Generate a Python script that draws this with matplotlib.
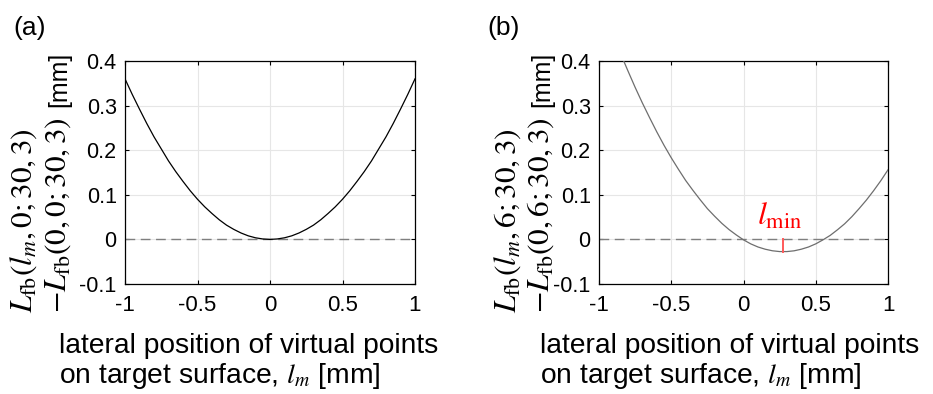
import matplotlib
matplotlib.use("Agg")
import matplotlib.pyplot as plt

plt.rcParams['font.family'] = ['Liberation Sans', 'DejaVu Sans']
plt.rcParams['mathtext.fontset'] = 'stix'
plt.rcParams['axes.unicode_minus'] = False

# Panel (a) curve values
xa = [-1.0, -0.95, -0.9, -0.85, -0.8, -0.75, -0.7, -0.65, -0.6, -0.55, -0.5,
      -0.45, -0.4, -0.35, -0.3, -0.25, -0.2, -0.15, -0.1, -0.05, 0.0,
      0.05, 0.1, 0.15, 0.2, 0.25, 0.3, 0.35, 0.4, 0.45, 0.5,
      0.55, 0.6, 0.65, 0.7, 0.75, 0.8, 0.85, 0.9, 0.95, 1.0]
ya = [0.360, 0.325, 0.292, 0.260, 0.230, 0.203, 0.176, 0.152, 0.130, 0.109, 0.090,
      0.073, 0.058, 0.044, 0.032, 0.0225, 0.0144, 0.008, 0.0036, 0.001, 0.0,
      0.001, 0.0036, 0.008, 0.0144, 0.0225, 0.032, 0.044, 0.058, 0.073, 0.090,
      0.109, 0.130, 0.152, 0.176, 0.203, 0.230, 0.260, 0.292, 0.325, 0.360]

# Panel (b) curve values
xb = [-0.85, -0.8, -0.75, -0.7, -0.65, -0.6, -0.55, -0.5, -0.45, -0.4,
      -0.35, -0.3, -0.25, -0.2, -0.15, -0.1, -0.05, 0.0, 0.05, 0.1,
      0.15, 0.2, 0.25, 0.3, 0.35, 0.4, 0.45, 0.5, 0.55, 0.6,
      0.65, 0.7, 0.75, 0.8, 0.85, 0.9, 0.95, 1.0]
yb = [0.416, 0.378, 0.341, 0.306, 0.273, 0.241, 0.211, 0.183, 0.157, 0.132,
      0.110, 0.089, 0.069, 0.052, 0.036, 0.022, 0.010, -0.001, -0.010, -0.017,
      -0.022, -0.0255, -0.0273, -0.0273, -0.0256, -0.022, -0.017, -0.010, -0.001, 0.009,
      0.0215, 0.035, 0.051, 0.069, 0.088, 0.109, 0.1315, 0.156]

lmin_x = 0.276
lmin_y = -0.0275

xticks = [-1, -0.5, 0, 0.5, 1]
xticklabels = ['-1', '-0.5', '0', '0.5', '1']
yticks = [-0.1, 0, 0.1, 0.2, 0.3, 0.4]
yticklabels = ['-0.1', '0', '0.1', '0.2', '0.3', '0.4']

panel_labels = ['(a)', '(b)']
ylabel_line1 = [r'$L_{\mathrm{fb}}(l_m,0;30,3)$', r'$L_{\mathrm{fb}}(l_m,6;30,3)$']
ylabel_line2 = [r'$-L_{\mathrm{fb}}(0,0;30,3)$', r'$-L_{\mathrm{fb}}(0,6;30,3)$']
ylabel_unit = '[mm]'
xlabel_line1 = 'lateral position of virtual points'
xlabel_line2 = 'on target surface, $l_m$ [mm]'

W, H = 933, 394
fig = plt.figure(figsize=(W / 100, H / 100), dpi=100)


def fx(px):
    return px / W


def fy(py):
    return 1 - py / H


axes_px = [(125, 61, 415, 284), (599, 61, 888, 284)]
curves = [(xa, ya, 'black'), (xb, yb, '#6e6e6e')]
ylab_x = [(32, 66), (516, 549)]
xlab_left = [59, 540]
panel_x = [13, 487]

for i, (l, t, r, b) in enumerate(axes_px):
    ax = fig.add_axes([fx(l), fy(b), (r - l) / W, (b - t) / H])
    x, y, c = curves[i]
    ax.axhline(0, color='#7f7f7f', lw=1.0, ls=(0, (7, 4)), zorder=2)
    ax.plot(x, y, color=c, lw=0.9, zorder=3)
    ax.set_xlim(-1, 1)
    ax.set_ylim(-0.1, 0.4)
    ax.set_xticks(xticks)
    ax.set_xticklabels(xticklabels)
    ax.set_yticks(yticks)
    ax.set_yticklabels(yticklabels)
    ax.grid(True, color='#e6e6e6', lw=0.8, zorder=0)
    ax.set_axisbelow(True)
    ax.tick_params(direction='in', length=3, width=0.8, top=True, right=True,
                   labelsize=16)
    ax.tick_params(axis='y', pad=6, labelsize=15.5)
    ax.tick_params(axis='x', pad=8)
    for s in ax.spines.values():
        s.set_linewidth(0.9)

    # y label (two rotated lines)
    x1, x2 = ylab_x[i]
    fig.text(fx(x1), fy(313), ylabel_line1[i], rotation=90, rotation_mode='anchor',
             ha='left', va='baseline', fontsize=22.5)
    fig.text(fx(x2), fy(313), ylabel_line2[i], rotation=90, rotation_mode='anchor',
             ha='left', va='baseline', fontsize=22.5)
    fig.text(fx(x2), fy(52), ylabel_unit, rotation=90, rotation_mode='anchor',
             ha='right', va='baseline', fontsize=18)

    # x label (two lines)
    fig.text(fx(xlab_left[i]), fy(353), xlabel_line1, ha='left', va='baseline',
             fontsize=20.3)
    fig.text(fx(xlab_left[i]), fy(383), xlabel_line2, ha='left', va='baseline',
             fontsize=20.3)

    fig.text(fx(panel_x[i]), fy(35), panel_labels[i], ha='left', va='baseline',
             fontsize=19)

    if i == 1:
        ax.plot([lmin_x, lmin_x], [0, lmin_y], color='#ff5a5a', lw=1.4, zorder=4)
        ax.text(0.09, 0.0335, r'$l_{\mathrm{min}}$', color='red', fontsize=23,
                ha='left', va='baseline')

fig.savefig('out.png', dpi=100)
